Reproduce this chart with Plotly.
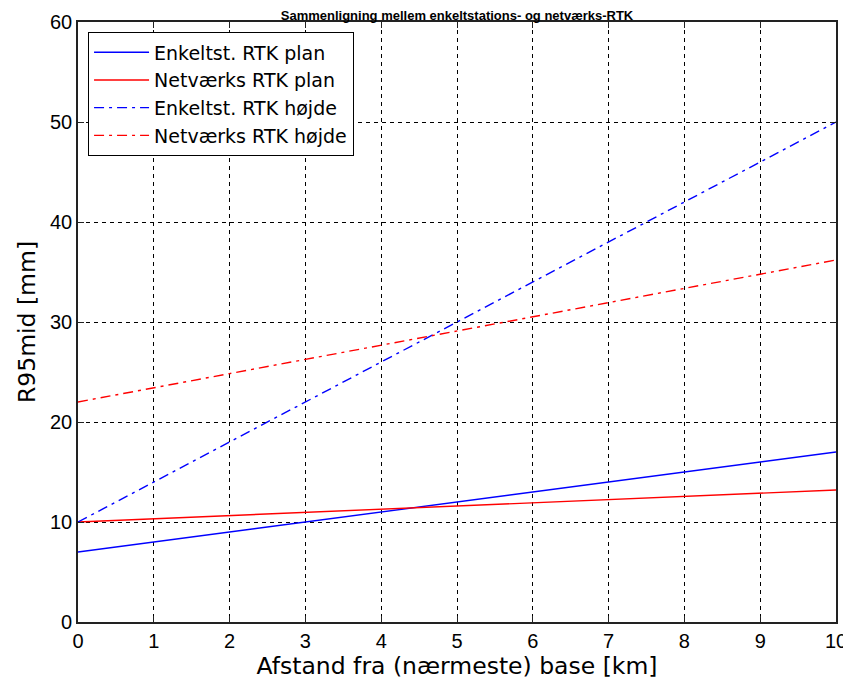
import plotly.graph_objects as go

x_km = [0, 10]
enkelt_plan = [7.0, 17.0]
netv_plan = [10.0, 13.2]
enkelt_hojde = [10.0, 50.0]
netv_hojde = [22.0, 36.2]

names = ["Enkeltst. RTK plan", "Netværks RTK plan", "Enkeltst. RTK højde", "Netværks RTK højde"]
series = [enkelt_plan, netv_plan, enkelt_hojde, netv_hojde]
colors = ["#0000ff", "#ff0000", "#0000ff", "#ff0000"]
dashes = ["solid", "solid", "10px,5px,3px,5px", "10px,5px,3px,5px"]

TICKFONT = "Liberation Sans, Arial, sans-serif"
WIDEFONT = "DejaVu Sans, Liberation Sans, sans-serif"

# the page body has an 8px margin, so the figure is sized 8px smaller
W, H = 843, 680

fig = go.Figure()
for n, s, c, d in zip(names, series, colors, dashes):
    fig.add_trace(go.Scatter(x=x_km, y=s, mode="lines", name=n,
                             line=dict(color=c, width=1.4, dash=d)))

axis_common = dict(
    showline=True, linecolor="#222", linewidth=1.6, mirror="allticks",
    ticks="inside", ticklen=6, tickcolor="#222", tickwidth=1.2,
    showgrid=True, gridcolor="black", griddash="4px,4px", gridwidth=1,
    zeroline=False, automargin=False,
    tickfont=dict(family=TICKFONT, size=20, color="black"),
)

fig.update_layout(
    width=W, height=H,
    paper_bgcolor="white", plot_bgcolor="white",
    margin=dict(l=70, r=15, t=14, b=66),
    font=dict(family=WIDEFONT, color="black"),
    title=dict(text="<b>Sammenligning mellem enkeltstations- og netværks-RTK</b>",
               x=0.5, xanchor="center", xref="paper",
               y=1 - 7 / H, yref="container", yanchor="middle",
               font=dict(family="Liberation Sans, Arial, sans-serif", size=13, color="black")),
    xaxis=dict(range=[0, 10], tickvals=list(range(0, 11)),
               title=dict(text="Afstand fra (nærmeste) base [km]", standoff=6,
                          font=dict(family=WIDEFONT, size=23.5)), **axis_common),
    yaxis=dict(range=[0, 60], tickvals=list(range(0, 61, 10)),
               title=dict(text="R95mid [mm]", standoff=8,
                          font=dict(family=WIDEFONT, size=23.5)), **axis_common),
    legend=dict(x=0.013, y=0.983, xanchor="left", yanchor="top",
                bgcolor="white", bordercolor="black", borderwidth=1.2,
                font=dict(family=WIDEFONT, size=19, color="black"),
                tracegroupgap=0, itemwidth=55),
    showlegend=True,
)

fig.write_html("out.html")
